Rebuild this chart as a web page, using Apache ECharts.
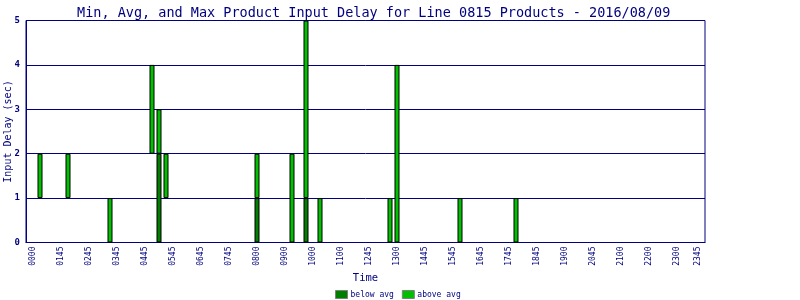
<!DOCTYPE html>
<html>
<head>
<meta charset="utf-8">
<script src="https://cdn.jsdelivr.net/npm/echarts@6/dist/echarts.min.js"></script>
<style>
html, body { margin: 0; padding: 0; background: #fff; }
#chart { width: 800px; height: 300px; }
</style>
</head>
<body>
<div id="chart"></div>
<script>
// quarter-hour slot (0..95) of each bar, and the delays in seconds
var slots    = [1, 5, 11, 17, 18, 19, 32, 37, 39, 41, 51, 52, 61, 69];
var minDelay = [1, 1, 0, 2, 0, 1, 0, 0, 0, 0, 0, 0, 0, 0];
var avgDelay = [1, 1, 0, 2, 2, 1, 1, 0, 1, 0, 0, 0, 0, 0];
var maxDelay = [2, 2, 1, 4, 3, 2, 2, 2, 5, 1, 1, 4, 1, 1];

var tickLabels = ['0000', '0145', '0245', '0345', '0445', '0545', '0645', '0745', '0800', '0900',
    '1000', '1100', '1245', '1300', '1445', '1545', '1645', '1745', '1845', '1900',
    '2045', '2100', '2200', '2300', '2345'];
var tickSlots = [0, 4, 8, 12, 16, 20, 24, 28, 32, 36, 40, 44, 48, 52, 56, 60, 64, 68, 72, 76,
    80, 84, 88, 92, 95];

var navy = '#000080';
var mono = 'DejaVu Sans Mono';

// one empty slot of padding on each side of the 96 quarter-hours
var nCats = 98;
var cats = [];
for (var c = 0; c < nCats; c++) cats.push(String(c - 1));

function column(fn, keepZero) {
    var out = [];
    for (var c = 0; c < nCats; c++) out.push('-');
    for (var i = 0; i < slots.length; i++) {
        var v = fn(i);
        out[slots[i] + 1] = (v > 0 || keepZero) ? v : '-';
    }
    return out;
}

var baseData = column(function (i) { return minDelay[i]; }, true);
var belowData = column(function (i) { return avgDelay[i] - minDelay[i]; });
var aboveData = column(function (i) { return maxDelay[i] - avgDelay[i]; });

var myChart = echarts.init(document.getElementById('chart'));

var option = {
    animation: false,
    title: {
        text: 'Min, Avg, and Max Product Input Delay for Line 0815 Products - 2016/08/09',
        left: 72,
        top: 1,
        textStyle: {color: navy, fontFamily: mono, fontSize: 13.5, fontWeight: 'normal'}
    },
    legend: {
        data: ['below avg', 'above avg'],
        left: 335,
        top: 290,
        padding: 0,
        itemWidth: 12,
        itemHeight: 8,
        itemGap: 8,
        icon: 'rect',
        itemStyle: {borderColor: '#808080', borderWidth: 1},
        textStyle: {color: navy, fontFamily: mono, fontSize: 8, padding: [0, 0, 0, -2]}
    },
    grid: {
        left: 26,
        right: 95,
        top: 20.5,
        bottom: 57.5,
        outerBoundsMode: 'none',
        containLabel: false,
        show: true,
        borderColor: navy,
        borderWidth: 1
    },
    xAxis: {
        type: 'category',
        data: cats,
        boundaryGap: false,
        name: 'Time',
        nameLocation: 'middle',
        nameGap: 30,
        nameMoveOverlap: false,
        nameTextStyle: {color: navy, fontFamily: mono, fontSize: 10.5},
        axisLine: {show: true, lineStyle: {color: navy, width: 1}},
        axisTick: {show: false},
        splitLine: {show: false},
        axisLabel: {
            interval: function (index) { return tickSlots.indexOf(index - 1) >= 0; },
            rotate: 90,
            margin: 4,
            color: navy,
            fontFamily: mono,
            fontSize: 8,
            formatter: function (v, index) {
                var k = tickSlots.indexOf(index - 1);
                return k >= 0 ? tickLabels[k] : '';
            }
        }
    },
    yAxis: {
        type: 'value',
        min: 0,
        max: 5,
        interval: 1,
        name: 'Input Delay (sec)',
        nameLocation: 'middle',
        nameGap: 13,
        nameMoveOverlap: false,
        nameTextStyle: {color: navy, fontFamily: mono, fontSize: 10},
        axisLine: {show: true, onZero: false, lineStyle: {color: navy, width: 1}},
        axisTick: {show: false},
        splitLine: {show: true, lineStyle: {color: navy, width: 1}},
        axisLabel: {color: navy, fontFamily: mono, fontSize: 9, fontWeight: 'bold', margin: 6}
    },
    series: [
        {
            name: 'base',
            type: 'bar',
            stack: 'delay',
            barWidth: 5,
            silent: true,
            itemStyle: {color: 'transparent'},
            data: baseData
        },
        {
            name: 'below avg',
            type: 'bar',
            stack: 'delay',
            barWidth: 5,
            itemStyle: {color: '#007f00', borderColor: '#000', borderWidth: 1},
            data: belowData
        },
        {
            name: 'above avg',
            type: 'bar',
            stack: 'delay',
            barWidth: 5,
            itemStyle: {color: '#00c000', borderColor: '#000', borderWidth: 1},
            data: aboveData
        }
    ]
};

myChart.setOption(option);

window.addEventListener('resize', function () {
    myChart.resize();
});
</script>
</body>
</html>
